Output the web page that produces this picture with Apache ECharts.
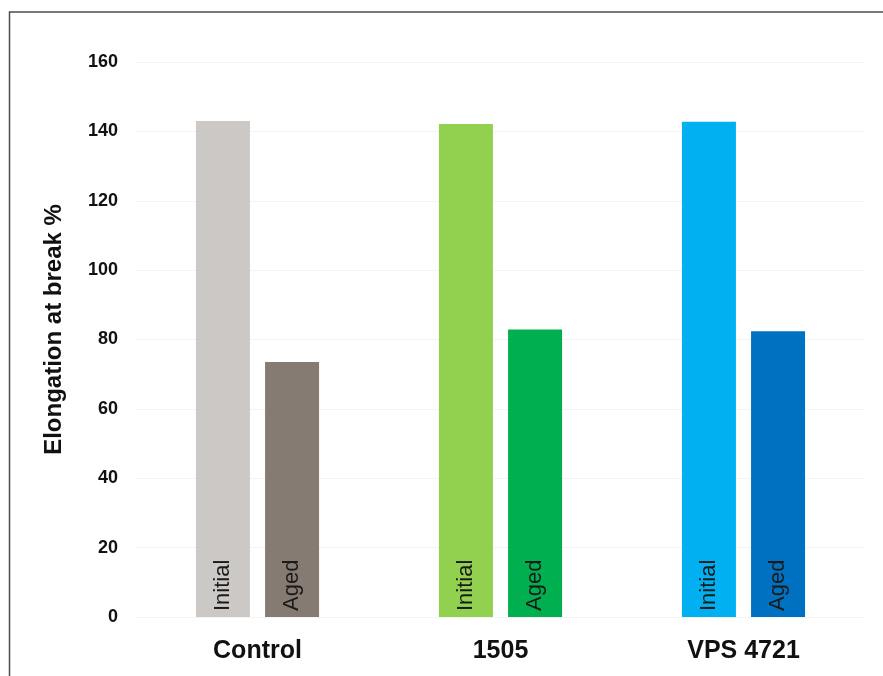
<!DOCTYPE html>
<html>
<head>
<meta charset="utf-8">
<script src="https://cdn.jsdelivr.net/npm/echarts@6/dist/echarts.min.js"></script>
<style>
  html, body { margin: 0; padding: 0; background: #ffffff; }
  #chart { width: 883px; height: 676px; }
</style>
</head>
<body>
<div id="chart"></div>
<script>
// Elongation at break (%) for each material, before and after ageing
const categories = ['Control', '1505', 'VPS 4721'];
const initialValues = [143, 142.1, 142.8];
const agedValues = [73.5, 82.9, 82.4];
const seriesNames = ['Initial', 'Aged'];
const yMin = 0;
const yMax = 160;
const yStep = 20;

// Fill colours per material: light shade for Initial, dark for Aged
const initialColors = ['#ccc8c5', '#92d050', '#00b0f0'];
const agedColors = ['#857b73', '#00b050', '#0070c0'];

const chart = echarts.init(document.getElementById('chart'), null, { renderer: 'canvas' });

const FONT = 'Liberation Sans, Arial, sans-serif';

function barSeries(name, values, colors) {
  return {
    name: name,
    type: 'bar',
    barWidth: 54,
    barGap: '28%',
    data: values.map((v, i) => ({ value: v, itemStyle: { color: colors[i] } })),
    label: {
      show: true,
      position: 'insideBottom',
      rotate: 90,
      align: 'left',
      verticalAlign: 'middle',
      distance: 6,
      formatter: '{a}',
      fontFamily: FONT,
      fontSize: 22,
      color: '#1a1a1a'
    }
  };
}

chart.setOption({
  backgroundColor: '#ffffff',
  animation: false,
  grid: { left: 136, right: 18, top: 62, bottom: 59, containLabel: false },
  xAxis: {
    type: 'category',
    data: categories,
    axisLine: { show: false },
    axisTick: { show: false },
    axisLabel: {
      margin: 22,
      fontFamily: FONT,
      fontWeight: 'bold',
      fontSize: 25,
      color: '#111111'
    }
  },
  yAxis: {
    type: 'value',
    min: yMin,
    max: yMax,
    interval: yStep,
    name: 'Elongation at break %',
    nameLocation: 'middle',
    nameGap: 70,
    nameTextStyle: {
      fontFamily: FONT,
      fontWeight: 'bold',
      fontSize: 24,
      color: '#111111',
      padding: [0, 0, 0, 20]
    },
    axisLine: { show: false },
    axisTick: { show: false },
    axisLabel: {
      margin: 18,
      fontFamily: FONT,
      fontWeight: 'bold',
      fontSize: 18,
      color: '#111111'
    },
    splitLine: { show: true, lineStyle: { color: '#f4f4f4', width: 1 } }
  },
  series: [
    barSeries(seriesNames[0], initialValues, initialColors),
    barSeries(seriesNames[1], agedValues, agedColors)
  ],
  graphic: [
    {
      type: 'polyline',
      silent: true,
      shape: { points: [[9.5, 676], [9.5, 12], [883, 12]] },
      style: { stroke: '#4d4d4d', lineWidth: 1.5, fill: null }
    }
  ]
});
</script>
</body>
</html>
